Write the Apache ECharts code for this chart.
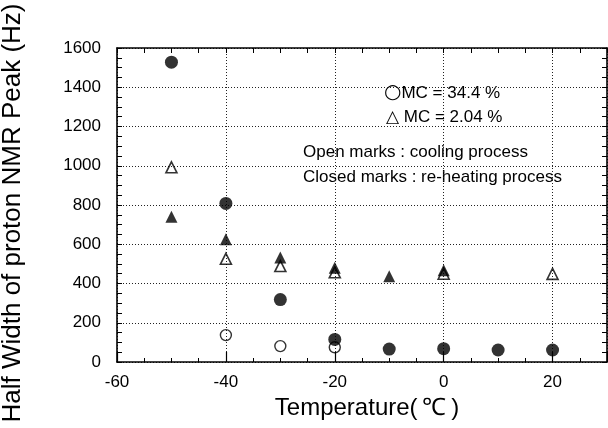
<!DOCTYPE html>
<html>
<head>
<meta charset="utf-8">
<script src="https://cdn.jsdelivr.net/npm/echarts@6/dist/echarts.min.js"></script>
<style>html,body{margin:0;padding:0;background:#fff;}#c{width:608px;height:428px;}</style>
</head>
<body>
<div id="c"></div>
<script>
// Temperature (°C) and half width (Hz)
const closedCircleT = [-50, -40, -30, -20, -10, 0, 10, 20];
const closedCircleV = [1528, 808, 318, 115, 66, 68, 61, 61];
const openCircleT = [-40, -30, -20];
const openCircleV = [137, 81, 75];
const closedTriT = [-50, -40, -30, -20, -10, 0];
const closedTriV = [740, 625, 532, 480, 437, 467];
const openTriT = [-50, -40, -30, -20, 0, 20];
const openTriV = [992, 526, 489, 457, 450, 449];
const xTicks = [-60, -40, -20, 0, 20];
const yTicks = [0, 200, 400, 600, 800, 1000, 1200, 1400, 1600];

const pair = (t, v) => t.map((x, i) => [x, v[i]]);
const FONT = '"Liberation Sans", Arial, sans-serif';

const chart = echarts.init(document.getElementById('c'), null, {renderer: 'canvas'});
const axisLine = {show: true, onZero: false, lineStyle: {color: '#000', width: 1.6}};
const grid = {type: [1, 2], color: '#222', width: 1};
chart.setOption({
  animation: false,
  backgroundColor: '#fff',
  grid: {left: 117, right: 1, top: 48, bottom: 66, outerBoundsMode: 'none', containLabel: false},
  xAxis: [
    {
      type: 'value', min: -60, max: 30, interval: 20, position: 'bottom',
      axisLine: axisLine,
      axisTick: {show: true, inside: true, length: 10, lineStyle: {color: '#000', width: 1.2}},
      splitLine: {show: true, lineStyle: grid},
      axisLabel: {color: '#000', fontFamily: FONT, fontSize: 17, margin: 12,
        formatter: v => xTicks.includes(v) ? String(v) : ''},
      name: 'Temperature(\u2009℃\u2009)', nameLocation: 'middle', nameGap: 32,
      nameTextStyle: {color: '#000', fontFamily: FONT, fontSize: 24, padding: [0, 0, 0, 10]}
    },
    {
      type: 'value', min: -60, max: 30, interval: 5, position: 'bottom',
      axisLine: {show: false, onZero: false},
      axisTick: {show: true, inside: true, length: 4, lineStyle: {color: '#000', width: 1}},
      splitLine: {show: false}, axisLabel: {show: false}
    },
    {
      type: 'value', min: -60, max: 30, interval: 5, position: 'top',
      axisLine: axisLine,
      axisTick: {show: true, inside: true, length: 5, lineStyle: {color: '#000', width: 1}},
      splitLine: {show: false}, axisLabel: {show: false}
    }
  ],
  yAxis: [
    {
      type: 'value', min: 0, max: 1600, interval: 200, position: 'left',
      axisLine: axisLine,
      axisTick: {show: true, inside: true, length: 5, lineStyle: {color: '#000', width: 1}},
      minorTick: {show: true, splitNumber: 4, length: 5, lineStyle: {color: '#000', width: 1}},
      splitLine: {show: true, lineStyle: grid},
      axisLabel: {color: '#000', fontFamily: FONT, fontSize: 17, margin: 16,
        formatter: v => yTicks.includes(v) ? String(v) : ''},
      name: 'Half Width of proton NMR Peak (Hz)', nameLocation: 'middle', nameGap: 91,
      nameTextStyle: {color: '#000', fontFamily: FONT, fontSize: 26, padding: [0, 16, 0, 0]}
    },
    {
      type: 'value', min: 0, max: 1600, interval: 200, position: 'right',
      axisLine: axisLine,
      axisTick: {show: true, inside: true, length: 5, lineStyle: {color: '#000', width: 1}},
      minorTick: {show: true, splitNumber: 4, length: 5, lineStyle: {color: '#000', width: 1}},
      splitLine: {show: false}, axisLabel: {show: false}
    }
  ],
  graphic: [
    {type: 'text', left: 384, top: 83, style: {text: '{c|○}MC = 34.4 %', font: '17px ' + FONT, fill: '#000',
      rich: {c: {fontSize: 20, fontFamily: 'DejaVu Sans', verticalAlign: 'middle'}}}},
    {type: 'text', left: 386, top: 109, style: {text: '△ MC = 2.04 %', font: '17px ' + FONT, fill: '#000'}},
    {type: 'text', left: 303, top: 144, style: {text: 'Open marks : cooling process', font: '17px ' + FONT, fill: '#000'}},
    {type: 'text', left: 303, top: 169, style: {text: 'Closed marks : re-heating process', font: '17px ' + FONT, fill: '#000'}}
  ],
  series: [
    {type: 'scatter', name: 'open circle', data: pair(openCircleT, openCircleV), symbol: 'circle', symbolSize: 11,
      itemStyle: {color: 'rgba(0,0,0,0)', borderColor: '#000', borderWidth: 1.4}, z: 3},
    {type: 'scatter', name: 'open triangle', data: pair(openTriT, openTriV), symbol: 'triangle', symbolSize: 11,
      itemStyle: {color: 'rgba(0,0,0,0)', borderColor: '#000', borderWidth: 1.6}, z: 3},
    {type: 'scatter', name: 'closed triangle', data: pair(closedTriT, closedTriV), symbol: 'triangle', symbolSize: 12,
      itemStyle: {color: '#000'}, z: 4},
    {type: 'scatter', name: 'closed circle', data: pair(closedCircleT, closedCircleV), symbol: 'circle', symbolSize: 13,
      itemStyle: {color: '#000'}, z: 4}
  ]
});
</script>
</body>
</html>
